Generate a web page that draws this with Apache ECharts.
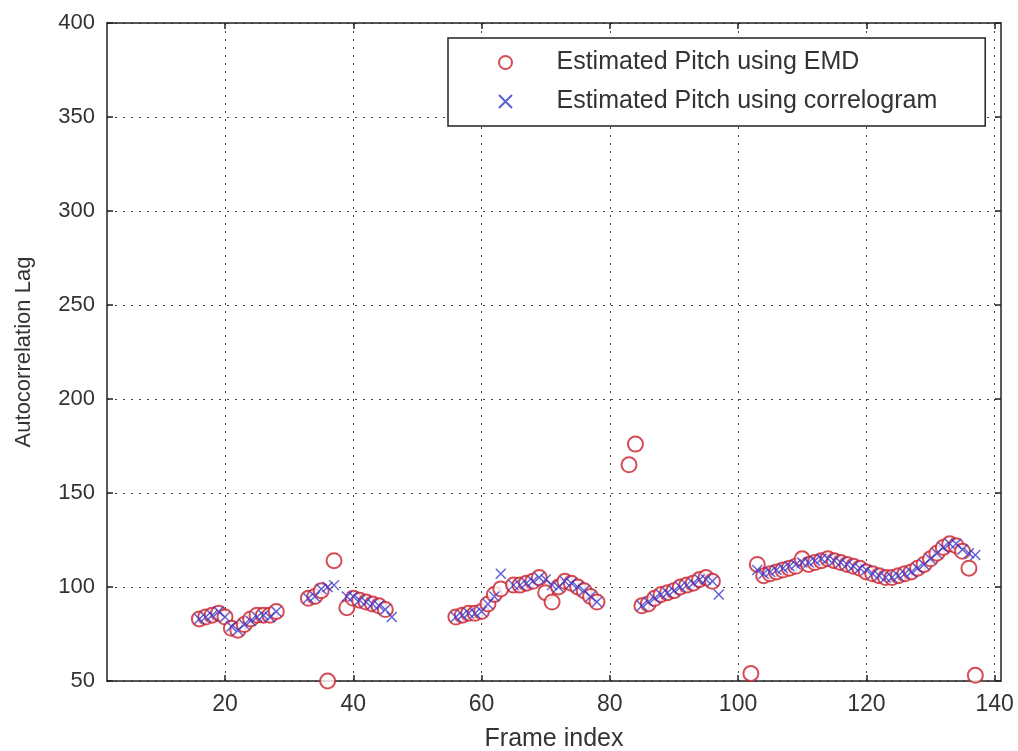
<!DOCTYPE html>
<html>
<head>
<meta charset="utf-8">
<script src="https://cdn.jsdelivr.net/npm/echarts@6/dist/echarts.min.js"></script>
<style>
  html, body { margin: 0; padding: 0; background: #fff; }
  #main { width: 1018px; height: 751px; }
</style>
</head>
<body>
<div id="main"></div>
<script>
// frame indices + lag values
var emdFrames = [16,17,18,19,20,21,22,23,24,25,26,27,28,
  33,34,35,36,37, 39,40,41,42,43,44,45,
  56,57,58,59,60,61,62,63, 65,66,67,68,69,70,71,72,73,74,75,76,77,78,
  83,84, 85,86,87,88,89,90,91,92,93,94,95,96, 102,
  103,104,105,106,107,108,109,110,111,112,113,114,115,116,117,118,119,120,
  121,122,123,124,125,126,127,128,129,130,131,132,133,134,135,136,137];
var emdLag = [83,84,85,86,84,78,77,80,83,85,85,85,87,
  94,95,98,50,114, 89,94,93,92,91,90,88,
  84,85,86,86,87,91,96,99, 101,101,102,103,105,97,92,100,103,102,100,98,95,92,
  165,176, 90,91,94,96,97,98,100,101,102,104,105,103, 54,
  112,106,107,108,109,110,111,115,112,113,114,115,114,113,112,111,110,108,
  107,106,105,105,106,107,108,110,112,115,118,121,123,122,119,110,53];

var corrFrames = [16,17,18,19,20,21,22,23,24,25,26,27,28,
  33,34,35,36,37, 39,40,41,42,43,44,45,46,
  56,57,58,59,60,61,62,63, 65,66,67,68,69,70,71,72,73,74,75,76,77,78,
  85,86,87,88,89,90,91,92,93,94,95,96,97,
  103,104,105,106,107,108,109,110,111,112,113,114,115,116,117,118,119,120,
  121,122,123,124,125,126,127,128,129,130,131,132,133,134,135,136,137];
var corrLag = [83,84,85,87,84,79,77,80,82,84,85,84,87,
  94,95,99,100,101, 95,95,93,92,91,90,88,84,
  84,85,86,86,87,91,95,107, 101,101,102,103,105,104,101,100,103,102,100,98,95,92,
  90,92,94,96,97,98,100,101,102,104,104,103,96,
  109,107,108,109,110,111,112,113,113,114,115,115,114,113,112,111,110,109,
  107,106,105,105,106,107,108,110,112,115,118,121,123,123,120,118,117];

var xTicks = [20, 40, 60, 80, 100, 120, 140];

var emdData = [];
for (let i = 0; i < emdFrames.length; i++) {
    emdData.push([emdFrames[i], emdLag[i]]);
}
var corrData = [];
for (let i = 0; i < corrFrames.length; i++) {
    corrData.push([corrFrames[i], corrLag[i]]);
}

var myChart = echarts.init(document.getElementById('main'));
var font = 'Liberation Sans, Arial, sans-serif';
var gridLine = { show: true, lineStyle: { color: '#444', width: 1, type: [2, 6] } };
var boxLine = { show: true, onZero: false, lineStyle: { color: '#222', width: 1.5 } };
var tickStyle = { color: '#222', width: 1.5 };

var option = {
    backgroundColor: '#fff',
    animation: false,
    grid: { left: 107, right: 17, top: 23, bottom: 70, outerBoundsMode: 'none', containLabel: false },
    legend: {
        orient: 'vertical',
        left: 448,
        top: 38,
        padding: [12, 48, 12, 50],
        itemGap: 14,
        itemWidth: 92,
        itemHeight: 13,
        borderColor: '#222',
        borderWidth: 1.5,
        backgroundColor: '#fff',
        textStyle: { fontFamily: font, fontSize: 25, color: '#333' },
        data: ['Estimated Pitch using EMD', 'Estimated Pitch using correlogram']
    },
    xAxis: [{
        type: 'value',
        min: 1.6,
        max: 141,
        name: 'Frame index',
        nameLocation: 'middle',
        nameGap: 46,
        nameTextStyle: { fontFamily: font, fontSize: 25, color: '#333' },
        axisLine: boxLine,
        axisTick: { show: true, inside: true, length: 6, customValues: xTicks, lineStyle: tickStyle },
        axisLabel: { customValues: xTicks, fontFamily: font, fontSize: 23, color: '#333', margin: 12 },
        splitLine: gridLine
    }, {
        type: 'value',
        position: 'top',
        min: 1.6,
        max: 141,
        axisLine: boxLine,
        axisTick: { show: true, inside: true, length: 6, customValues: xTicks, lineStyle: tickStyle },
        axisLabel: { show: false, customValues: xTicks },
        splitLine: { show: false }
    }],
    yAxis: [{
        type: 'value',
        min: 50,
        max: 400,
        interval: 50,
        name: 'Autocorrelation Lag',
        nameLocation: 'middle',
        nameGap: 72,
        nameTextStyle: { fontFamily: font, fontSize: 22, color: '#333' },
        axisLine: boxLine,
        axisTick: { show: true, inside: true, length: 6, lineStyle: tickStyle },
        axisLabel: { fontFamily: font, fontSize: 22, color: '#333', margin: 12 },
        splitLine: gridLine
    }, {
        type: 'value',
        position: 'right',
        min: 50,
        max: 400,
        interval: 50,
        axisLine: boxLine,
        axisTick: { show: true, inside: true, length: 6, lineStyle: tickStyle },
        axisLabel: { show: false },
        splitLine: { show: false }
    }],
    series: [
        {
            name: 'Estimated Pitch using EMD',
            type: 'scatter',
            symbol: 'emptyCircle',
            symbolSize: 15,
            itemStyle: { color: '#cc1f2a', borderColor: '#cc1f2a', borderWidth: 1.7 },
            data: emdData
        },
        {
            name: 'Estimated Pitch using correlogram',
            type: 'scatter',
            symbol: 'path://M0,0 L10,10 M10,0 L0,10',
            symbolSize: 10,
            itemStyle: { color: 'rgba(0,0,0,0)', borderColor: '#3434cc', borderWidth: 1.4 },
            data: corrData
        }
    ]
};

option && myChart.setOption(option);
</script>
</body>
</html>
